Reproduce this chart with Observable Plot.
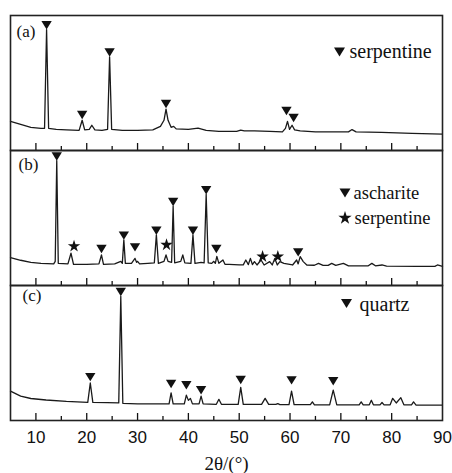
<!DOCTYPE html>
<html><head><meta charset="utf-8">
<script src="https://cdn.jsdelivr.net/npm/d3@7"></script>
<script src="https://cdn.jsdelivr.net/npm/@observablehq/plot@0.6"></script>
<style>
body{margin:0;background:#fff;}
#chart svg{display:block;}
</style></head><body><div id="chart"></div>
<script>
const panels = ["a", "b", "c"];
const panelLabels = ["(a)", "(b)", "(c)"];
const xTicksMajor = [10, 20, 30, 40, 50, 60, 70, 80];
const xTicksMinor = [15, 25, 35, 45, 55, 65, 75, 85];
const xTickLabels = [10, 20, 30, 40, 50, 60, 70, 80, 90];
const axisTitle = ["2θ/(°)"];

// [2θ (deg), relative intensity (% of panel height)]
const patternA = [
  [5, 21.6], [7, 19.4], [9, 17.2], [11, 16.4], [11.7, 16.4], [12.1, 89.6], [12.5, 16.4],
  [14, 15.7], [16, 15.3], [18.5, 14.9], [19.1, 22.4], [19.6, 15.3], [20.5, 15.7], [21.0, 18.7],
  [21.6, 15.3], [23, 14.9], [24.1, 15.7], [24.5, 69.4], [24.9, 15.7], [27, 14.9], [30, 14.9],
  [33, 15.3], [34.5, 17.9], [35.2, 22.4], [35.6, 30.6], [36.0, 22.4], [36.6, 17.2], [37.1, 17.9],
  [37.6, 16.0], [40, 15.7], [41.9, 16.6], [43.5, 14.9], [46, 14.2], [49.5, 14.2], [50.3, 15.1],
  [51, 14.6], [53, 14.6], [56, 14.2], [58.5, 13.8], [59.1, 16.4], [59.5, 21.6], [59.9, 15.7],
  [60.4, 18.7], [60.9, 15.3], [62, 14.6], [65, 13.8], [68, 13.8], [71.5, 13.8], [72.2, 15.5],
  [73, 13.8], [78, 13.4], [84, 12.7], [90, 12.2]
];
const patternB = [
  [5, 20.7], [7, 18.7], [9, 17.2], [11, 16.4], [13.5, 16.0], [13.8, 17.9], [14.1, 92.5], [14.4, 16.4],
  [16.3, 16.0], [16.9, 23.9], [17.4, 15.7], [20, 15.7], [22.4, 16.0], [22.9, 22.6], [23.3, 15.7],
  [25.5, 16.0], [26.7, 17.9], [27.0, 16.4], [27.3, 33.8], [27.6, 16.4], [28.8, 16.4], [29.5, 20.1],
  [29.8, 17.2], [30.0, 17.9], [30.4, 16.0], [32, 16.4], [33.3, 16.8], [33.7, 37.5], [34.1, 16.4],
  [35.2, 17.9], [35.6, 22.6], [36.0, 17.9], [36.7, 17.2], [37.0, 58.7], [37.3, 16.8], [38.5, 17.9],
  [38.9, 22.6], [39.3, 16.8], [40.5, 16.4], [40.9, 37.5], [41.3, 16.4], [42.5, 17.2], [43.1, 16.8],
  [43.5, 67.4], [43.9, 16.8], [44.6, 16.4], [45.0, 17.9], [45.3, 16.4], [45.6, 21.6], [46.0, 16.4],
  [46.8, 18.9], [47.2, 15.7], [48, 15.7], [50, 15.3], [50.8, 15.3], [51.3, 18.9], [51.8, 15.5],
  [52.2, 20.1], [52.6, 15.5], [53.0, 17.7], [53.5, 15.2], [54.3, 18.9], [54.9, 15.2], [56.0, 17.7],
  [56.5, 15.2], [57.0, 20.1], [57.5, 15.2], [58.0, 17.7], [58.8, 16.4], [60.5, 15.2], [61.3, 18.9],
  [61.6, 16.0], [62.0, 21.4], [62.6, 17.7], [63.3, 15.2], [64.8, 15.0], [65.6, 16.4], [66.5, 14.9],
  [67.5, 14.9], [68.2, 16.4], [69.0, 14.9], [70.5, 16.4], [71.5, 14.6], [75.4, 14.6], [76.1, 16.4],
  [76.8, 14.6], [78.1, 15.2], [79, 14.4], [85, 14.2], [88.5, 14.2], [89.0, 15.2], [90, 14.2]
];
const patternC = [
  [5, 21.7], [7, 18.1], [9, 16.3], [12, 15.2], [16, 14.1], [20.2, 13.4], [20.7, 27.8], [21.2, 13.4],
  [24, 13.3], [26.3, 13.0], [26.7, 92.0], [27.1, 12.7], [30, 12.3], [33, 12.3], [36.2, 12.3],
  [36.6, 20.5], [37.0, 12.3], [39.2, 12.3], [39.6, 18.8], [40.0, 14.9], [40.4, 16.4], [40.8, 12.3],
  [42.1, 12.3], [42.5, 18.1], [42.9, 12.3], [45.5, 12.0], [46.0, 15.7], [46.5, 12.0], [49.8, 12.0],
  [50.3, 24.6], [50.8, 12.0], [54.4, 12.0], [55.1, 16.4], [55.8, 12.0], [57.2, 11.9], [57.6, 12.5],
  [58.0, 11.8], [59.8, 11.7], [60.3, 21.7], [60.8, 11.7], [64.0, 11.7], [64.4, 13.8], [64.8, 11.6],
  [67.8, 11.6], [68.5, 22.5], [69.2, 11.6], [73.6, 11.6], [74.0, 13.8], [74.4, 11.6], [75.6, 11.6],
  [76.0, 15.0], [76.4, 11.6], [77.7, 11.6], [78.1, 13.3], [78.5, 11.6], [79.7, 11.6], [80.2, 16.4],
  [80.9, 13.0], [81.8, 16.9], [82.4, 11.6], [83.9, 11.6], [84.3, 13.8], [84.8, 11.4], [90, 11.4]
];

// peak markers: [2θ, intensity at the marker tip]
const trianglesA = [[12.1, 89.6], [19.1, 23.1], [24.5, 69.4], [35.6, 31.3], [59.3, 26.1], [60.7, 20.9]];
const trianglesB = [[14.1, 92.5], [22.9, 23.9], [27.3, 33.8], [29.5, 25.1], [33.7, 37.5], [37.0, 58.7],
  [40.9, 37.5], [43.5, 67.4], [45.5, 23.9], [61.6, 21.4]];
const starsB = [[17.5, 29.1], [35.7, 30.1], [54.6, 21.4], [57.6, 21.4]];
const trianglesC = [[20.7, 29.0], [26.7, 92.0], [36.6, 23.9], [39.6, 23.0], [42.5, 19.3], [50.3, 26.8],
  [60.3, 26.6], [68.5, 25.9]];

const legendA = ["serpentine"];
const legendB = ["ascharite", "serpentine"];
const legendC = ["quartz"];

const ink = "#111";
const serif = "Liberation Serif";
const sans = "Liberation Sans";

const triDown = {
  draw(ctx, size) {
    const r = Math.sqrt(size / Math.PI);
    const w = 1.1 * r, h = 1.8 * r;
    ctx.moveTo(0, 0); ctx.lineTo(-w, -h); ctx.lineTo(w, -h); ctx.closePath();
  }
};

const rows = (arr, p) => arr.map(([x, y]) => ({panel: p, x, y}));
const lineRows = [...rows(patternA, "a"), ...rows(patternB, "b"), ...rows(patternC, "c")];
const triRows = [...rows(trianglesA, "a"), ...rows(trianglesB, "b"), ...rows(trianglesC, "c")];
const starRows = rows(starsB, "b");

const labelOffsets = [{dx: 6, dy: 16}, {dx: 8, dy: 14}, {dx: 12, dy: 10}];

const legendMarks = [
  Plot.dot([0], {fy: () => "a", frameAnchor: "top-right", dx: -103, dy: 41, symbol: triDown, r: 5, fill: ink}),
  Plot.text(legendA, {fy: () => "a", frameAnchor: "top-right", dx: -93, dy: 36, textAnchor: "start", lineAnchor: "middle", fontSize: 20, fontFamily: serif, fill: ink}),
  Plot.dot([0], {fy: () => "b", frameAnchor: "top-right", dx: -97.5, dy: 47, symbol: triDown, r: 5, fill: ink}),
  Plot.text([legendB[0]], {fy: () => "b", frameAnchor: "top-right", dx: -89, dy: 43, textAnchor: "start", lineAnchor: "middle", fontSize: 18.5, fontFamily: serif, fill: ink}),
  Plot.dot([0], {fy: () => "b", frameAnchor: "top-right", dx: -97.5, dy: 67.5, symbol: "star", r: 4.2, fill: ink}),
  Plot.text([legendB[1]], {fy: () => "b", frameAnchor: "top-right", dx: -88, dy: 67.5, textAnchor: "start", lineAnchor: "middle", fontSize: 18.5, fontFamily: serif, fill: ink}),
  Plot.dot([0], {fy: () => "c", frameAnchor: "top-right", dx: -96, dy: 22.5, symbol: triDown, r: 5, fill: ink}),
  Plot.text(legendC, {fy: () => "c", frameAnchor: "top-right", dx: -83, dy: 19.5, textAnchor: "start", lineAnchor: "middle", fontSize: 20, fontFamily: serif, fill: ink})
];

const chart = Plot.plot({
  width: 452,
  height: 473,
  marginTop: 14,
  marginBottom: 52,
  marginLeft: 10,
  marginRight: 10,
  style: {background: "white", fontFamily: serif, color: ink},
  x: {domain: [5, 90], axis: null},
  y: {domain: [0, 100], axis: null},
  fy: {domain: panels, padding: 0, axis: null},
  marks: [
    Plot.line(lineRows, {x: "x", y: "y", fy: "panel", stroke: "#1a1a1a", strokeWidth: 1.3}),
    Plot.ruleX(xTicksMajor, {x: d => d, y1: 0, y2: 5.2, stroke: ink, strokeWidth: 1.3}),
    Plot.ruleX(xTicksMinor, {x: d => d, y1: 0, y2: 3.0, stroke: ink, strokeWidth: 1.3}),
    Plot.frame({stroke: "#222", strokeWidth: 1.6}),
    Plot.dot(triRows, {x: "x", y: "y", fy: "panel", symbol: triDown, r: 4.7, fill: ink}),
    Plot.dot(starRows, {x: "x", y: "y", fy: "panel", symbol: "star", r: 3.9, fill: ink}),
    ...panels.map((p, i) => Plot.text([panelLabels[i]], {fy: () => p, frameAnchor: "top-left", dx: labelOffsets[i].dx, dy: labelOffsets[i].dy, textAnchor: "start", lineAnchor: "middle", fontSize: 17, fontFamily: serif, fill: ink})),
    ...legendMarks,
    Plot.axisX(xTickLabels, {tickSize: 0, tickPadding: 10, fontSize: 17, fontFamily: sans, fill: ink, tickFormat: d => d, label: null}),
    Plot.text(axisTitle, {fy: () => "c", frameAnchor: "bottom", dy: 43, lineAnchor: "middle", fontSize: 19, fontFamily: serif, fill: ink})
  ]
});
document.getElementById("chart").append(chart);
</script></body></html>
